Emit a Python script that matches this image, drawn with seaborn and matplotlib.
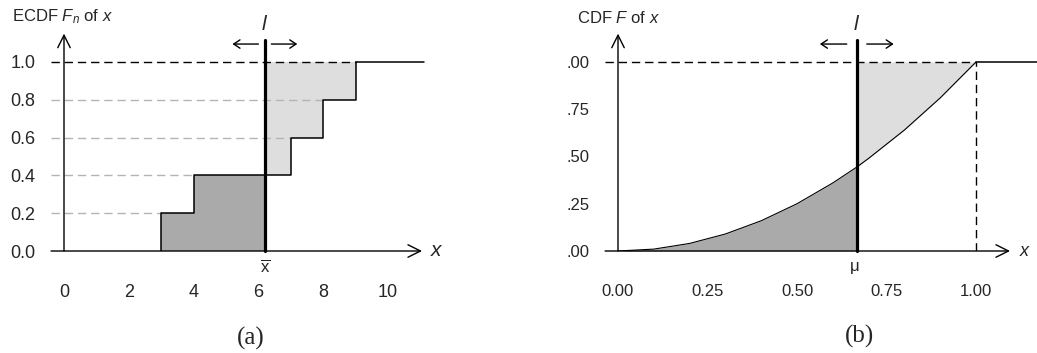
import numpy as np
import seaborn as sns
import matplotlib.pyplot as plt

# --- DATA ---
sample = np.array([3, 4, 7, 8, 9])          # observations behind the ECDF
xbar = sample.mean()                         # 6.2
a_xticks = [0, 2, 4, 6, 8, 10]
a_yticks = [0.0, 0.2, 0.4, 0.6, 0.8, 1.0]
a_yticklabels = ["0.0", "0.2", "0.4", "0.6", "0.8", "1.0"]

cdf_x = [0.0, 0.1, 0.2, 0.3, 0.4, 0.5, 0.6, 0.667, 0.7, 0.8, 0.9, 1.0]
cdf_y = [0.0, 0.01, 0.04, 0.09, 0.16, 0.25, 0.36, 0.444, 0.49, 0.64, 0.81, 1.0]
mu = 0.667
b_xticks = [0.0, 0.25, 0.5, 0.75, 1.0]
b_xticklabels = ["0.00", "0.25", "0.50", "0.75", "1.00"]
b_yticks = [0.0, 0.25, 0.5, 0.75, 1.0]
b_yticklabels = [".00", ".25", ".50", ".75", ".00"]

DARK = "#aaaaaa"
LIGHT = "#dedede"
DASH_GRAY = "#b4b4b4"

sns.set_style("white")
plt.rcParams["font.family"] = ["Liberation Sans", "DejaVu Sans"]
plt.rcParams["mathtext.fontset"] = "custom"
plt.rcParams["mathtext.rm"] = "Liberation Sans"
plt.rcParams["mathtext.it"] = "Liberation Sans:italic"

W, H = 1037, 353
fig = plt.figure(figsize=(W / 100, H / 100), dpi=100)


def make_axes(x0, y0, ppx, ppy, xmax, ymax):
    # x0, y0 = pixel position of data origin; ppx, ppy = pixels per data unit
    ax = fig.add_axes([x0 / W, (H - y0) / H, xmax * ppx / W, ymax * ppy / H])
    ax.set_xlim(0, xmax)
    ax.set_ylim(0, ymax)
    for s in ax.spines.values():
        s.set_visible(False)
    return ax


def axis_arrows(ax, xstart, xend, ystart, yend, lw=1.0):
    style = "->,head_length=0.9,head_width=0.45"
    ax.annotate("", xy=(xend, 0), xytext=(xstart, 0),
                arrowprops=dict(arrowstyle=style, lw=lw, color="black",
                                shrinkA=0, shrinkB=0), annotation_clip=False)
    ax.annotate("", xy=(0, yend), xytext=(0, ystart),
                arrowprops=dict(arrowstyle=style, lw=lw, color="black",
                                shrinkA=0, shrinkB=0), annotation_clip=False)


def l_marker(ax, xpos, top, y_arr, gap, span, fs):
    ax.plot([xpos, xpos], [0, top], color="black", lw=2.3, clip_on=False, zorder=6)
    st = "->,head_length=0.45,head_width=0.3"
    ax.annotate("", xy=(xpos - gap - span, y_arr), xytext=(xpos - gap, y_arr),
                arrowprops=dict(arrowstyle=st, lw=1, color="black", shrinkA=0, shrinkB=0),
                annotation_clip=False)
    ax.annotate("", xy=(xpos + gap + span, y_arr), xytext=(xpos + gap, y_arr),
                arrowprops=dict(arrowstyle=st, lw=1, color="black", shrinkA=0, shrinkB=0),
                annotation_clip=False)


# ---------------- panel (a): ECDF ----------------
ax = make_axes(64, 251, 32.4, 189, 11.1, 1.15)
sns.ecdfplot(x=sample, ax=ax, color="black", lw=1.1, zorder=4)
ax.set_xlim(0, 11.1)
ax.set_ylim(0, 1.15)
ax.set_xlabel("")
ax.set_ylabel("")

n = len(sample)
F = lambda v: np.sum(sample <= v) / n
lo = [s for s in sample if s < xbar]
hi = [s for s in sample if s > xbar]
dark_x = lo + [xbar]
ax.fill_between(dark_x, 0, [F(v) for v in dark_x], step="post", color=DARK, lw=0, zorder=1)
light_x = [xbar] + hi
ax.fill_between(light_x, [F(v) for v in light_x], 1, step="post", color=LIGHT, lw=0, zorder=1)

for s in sample[:-1]:
    ax.plot([-0.4, s], [F(s), F(s)], color=DASH_GRAY, lw=1, ls=(0, (6, 3.5)),
            clip_on=False, zorder=2)
ax.plot([-0.4, sample[-1]], [1, 1], color="black", lw=1, ls=(0, (6, 3.5)),
        clip_on=False, zorder=3)
ax.plot([sample[-1], 11.1], [1, 1], color="black", lw=1.1, clip_on=False, zorder=4)

axis_arrows(ax, -0.4, 11.05, 0, 1.15)
l_marker(ax, xbar, 1.116, 1.095, 0.2, 0.8, 14)
ax.text(xbar, 1.196, "$l$", ha="center", va="center", fontsize=15, clip_on=False)
ax.text(xbar, -0.085, r"$\overline{\mathrm{x}}$", ha="center", va="center", fontsize=12)
ax.text(11.5, 0, "$x$", ha="center", va="center", fontsize=15)

ax.set_xticks(a_xticks)
ax.set_yticks(a_yticks)
ax.set_yticklabels(a_yticklabels)
ax.tick_params(direction="out", length=9.5, width=1, color="black", labelsize=13)
ax.tick_params(axis="y", pad=11)
ax.tick_params(axis="x", pad=14)

# ---------------- panel (b): CDF ----------------
bx = make_axes(618, 251, 358, 189, 1.17, 1.15)
cdf_x_arr = np.array(cdf_x)
cdf_y_arr = np.array(cdf_y)
m_lo = cdf_x_arr <= mu
m_hi = cdf_x_arr >= mu
bx.fill_between(cdf_x_arr[m_lo], 0, cdf_y_arr[m_lo], color=DARK, lw=0, zorder=1)
bx.fill_between(cdf_x_arr[m_hi], cdf_y_arr[m_hi], 1, color=LIGHT, lw=0, zorder=1)
sns.lineplot(x=cdf_x, y=cdf_y, ax=bx, color="black", lw=0.8, zorder=4)
bx.set_xlim(0, 1.17)
bx.set_ylim(0, 1.15)
bx.set_xlabel("")
bx.set_ylabel("")

bx.plot([-0.036, 1.0], [1, 1], color="black", lw=1, ls=(0, (6, 3.5)), clip_on=False, zorder=3)
bx.plot([1.0, 1.0], [0, 1], color="black", lw=1, ls=(0, (6, 3.5)), zorder=3)
bx.plot([1.0, 1.17], [1, 1], color="black", lw=1.1, clip_on=False, zorder=4)

axis_arrows(bx, -0.036, 1.095, 0, 1.15)
l_marker(bx, mu, 1.116, 1.095, 0.028, 0.075, 14)
bx.text(mu, 1.196, "$l$", ha="center", va="center", fontsize=15, clip_on=False)
bx.text(mu - 0.005, -0.08, "μ", ha="center", va="center", fontsize=12)
bx.text(1.137, 0, "$x$", ha="center", va="center", fontsize=13)

bx.set_xticks(b_xticks)
bx.set_xticklabels(b_xticklabels)
bx.set_yticks(b_yticks)
bx.set_yticklabels(b_yticklabels)
bx.tick_params(direction="out", length=9.5, width=1, color="black", labelsize=12)
bx.tick_params(axis="y", pad=11)
bx.tick_params(axis="x", pad=14)

# titles and panel labels
fig.text(12 / W, 1 - 17 / H, "ECDF $F_n$ of $x$", ha="left", va="center", fontsize=12)
fig.text(577 / W, 1 - 18 / H, "CDF $F$ of $x$", ha="left", va="center", fontsize=12)
fig.text(251 / W, 1 - 338 / H, "(a)", ha="center", va="center", fontsize=18,
         family=["Liberation Serif", "DejaVu Serif"])
fig.text(860 / W, 1 - 336 / H, "(b)", ha="center", va="center", fontsize=18,
         family=["Liberation Serif", "DejaVu Serif"])

fig.savefig("out.png", dpi=100)
